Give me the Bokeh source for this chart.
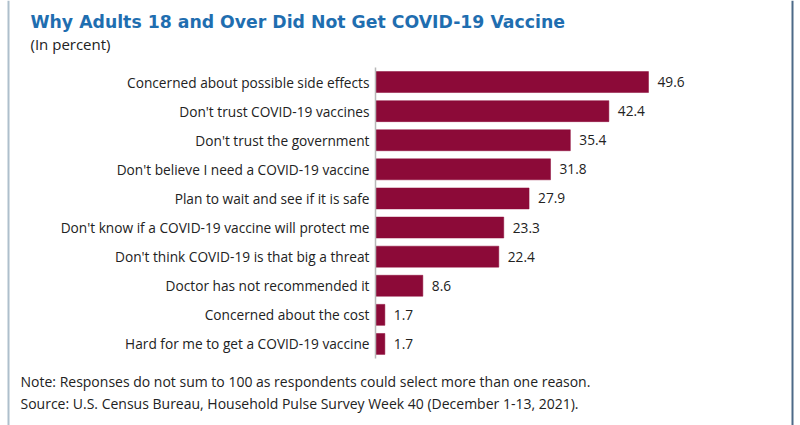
from bokeh.plotting import figure
from bokeh.models import Range1d, FactorRange, ColumnDataSource, Label, Span
from bokeh.core.properties import value
from bokeh.embed import file_html
from bokeh.resources import INLINE

categories = [
    "Concerned about possible side effects",
    "Don't trust COVID-19 vaccines",
    "Don't trust the government",
    "Don't believe I need a COVID-19 vaccine",
    "Plan to wait and see if it is safe",
    "Don't know if a COVID-19 vaccine will protect me",
    "Don't think COVID-19 is that big a threat",
    "Doctor has not recommended it",
    "Concerned about the cost",
    "Hard for me to get a COVID-19 vaccine",
]
values = [49.6, 42.4, 35.4, 31.8, 27.9, 23.3, 22.4, 8.6, 1.7, 1.7]
labels = ["49.6", "42.4", "35.4", "31.8", "27.9", "23.3", "22.4", "8.6", "1.7", "1.7"]

title_text = "Why Adults 18 and Over Did Not Get COVID-19 Vaccine"
subtitle_text = "(In percent)"
note_text = "Note: Responses do not sum to 100 as respondents could select more than one reason."
source_text = "Source: U.S. Census Bureau, Household Pulse Survey Week 40 (December 1-13, 2021)."

# layout (pixels)
W, H = 800, 425
AXIS_X = 375.0          # pixel of value 0
PX_PER_UNIT = 5.504     # pixels per percent
ROW_H = 29.1            # pixels per category row
N = len(categories)
pad_pct = (H - N * ROW_H) / (N * ROW_H)

p = figure(width=W, height=H, output_backend="svg", toolbar_location=None,
           x_range=Range1d(-AXIS_X / PX_PER_UNIT, (W - AXIS_X) / PX_PER_UNIT),
           y_range=FactorRange(factors=list(reversed(categories)),
                               range_padding=pad_pct, range_padding_units="percent"),
           min_border=0)
p.xaxis.visible = False
p.yaxis.visible = False
p.grid.visible = False
p.outline_line_color = None
p.background_fill_color = "white"
p.border_fill_color = "white"

src = ColumnDataSource(dict(cat=categories, val=values, lab=labels))
p.hbar(y="cat", right="val", left=0, height=0.72, source=src,
       fill_color="#8c0a38", line_color="#8c0a38", line_width=0.5)
p.text(x="val", y="cat", text="lab", source=src, x_offset=9,
       text_baseline="middle", text_align="left", text_font=value("Open Sans"),
       text_font_size="13.7px", text_color="#222222")
p.text(x=0, y="cat", text="cat", source=src, x_offset=-6,
       text_baseline="middle", text_align="right", text_font=value("Open Sans"),
       text_font_size="13.7px", text_color="#222222")

# axis line at value 0, spanning all category rows (synthetic coordinates 0..N)
p.segment(x0=[0], x1=[0], y0=[0], y1=[N], line_color="#b8b8b8", line_width=1.5)

# frame borders
p.add_layout(Span(location=8, location_units="screen", dimension="height",
                  line_color="#aebfcc", line_width=2))
p.add_layout(Span(location=792, location_units="screen", dimension="height",
                  line_color="#4d6a88", line_width=2))

# titles and notes (screen units, y measured from the bottom)
def lab(x, y_top, text, **kw):
    p.add_layout(Label(x=x, y=H - y_top, x_units="screen", y_units="screen", text=text,
                       text_baseline="middle", **kw))

lab(30, 21, title_text, text_font="DejaVu Sans", text_font_style="bold",
    text_font_size="17.3px", text_color="#1f6eb0")
lab(30, 43, subtitle_text, text_font="Open Sans", text_font_size="15px", text_color="#222222")
lab(20, 381, note_text, text_font="Open Sans", text_font_size="14px", text_color="#222222")
lab(20, 403, source_text, text_font="Open Sans", text_font_size="14px", text_color="#222222")

open("out.html", "w").write(file_html(p, INLINE))
